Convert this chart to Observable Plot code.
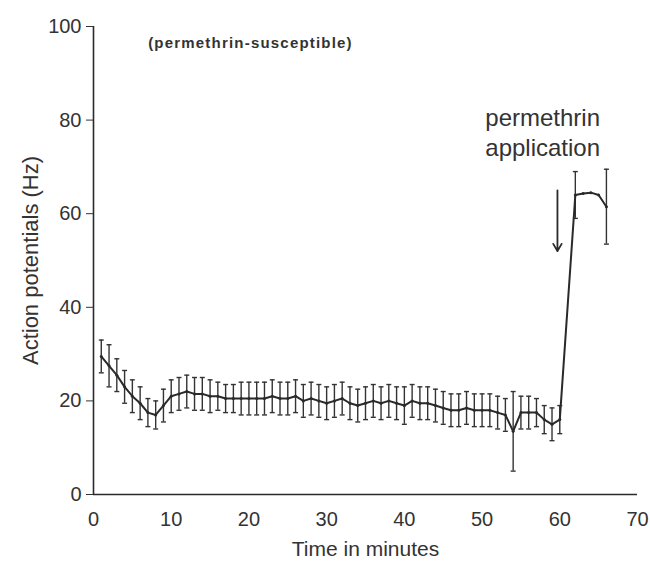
<!DOCTYPE html>
<html>
<head>
<meta charset="utf-8">
<script src="https://cdn.jsdelivr.net/npm/d3@7"></script>
<script src="https://cdn.jsdelivr.net/npm/@observablehq/plot@0.6"></script>
<style>
  html, body { margin: 0; padding: 0; background: #fff; }
  #chart svg { display: block; }
</style>
</head>
<body>
<div id="chart"></div>
<script>
// Time (minutes)
const minutes = [1,2,3,4,5,6,7,8,9,10,11,12,13,14,15,16,17,18,19,20,21,22,23,24,25,26,27,28,29,30,
  31,32,33,34,35,36,37,38,39,40,41,42,43,44,45,46,47,48,49,50,51,52,53,54,55,56,57,58,59,60,
  62,63,64,65,66];
// Mean action potential frequency (Hz)
const meanHz = [29.5,27.5,25.5,23,21,19.5,17.5,17,19,21,21.5,22,21.5,21.5,21,21,20.5,20.5,20.5,20.5,
  20.5,20.5,21,20.5,20.5,21,20,20.5,20,19.5,20,20.5,19.5,19,19.5,20,19.5,20,19.5,19,
  20,19.5,19.5,19,18.5,18,18,18.5,18,18,18,17.5,17,13.5,17.5,17.5,17.5,16,15,16,
  64,64.3,64.5,64,61.5];
// Error (± Hz)
const errHz = [3.5,4.5,3.5,3.5,3.5,3.5,3,3,3.5,3.5,3.5,3.5,3.5,3.5,3.5,3,3,3,3.5,3.5,
  3.5,3.5,3.5,3.5,3.5,3.5,3.5,3.5,3.5,3.5,3.5,3.5,3.5,3.5,3.5,3.5,3.5,3.5,3.5,4,
  3.5,3.5,3.5,3.5,3.5,3.5,3.5,3.5,3.5,3.5,3.5,3.5,3.5,8.5,3.5,3.5,3,3,3.5,3,
  5,0,0,0,8];
const yTicks = [0,20,40,60,80,100];
const xTicks = [0,10,20,30,40,50,60,70];
const xLabel = "Time in minutes";
const yLabel = "Action potentials (Hz)";
const annotationLines = ["permethrin", "application"];
const annotationY = [80.3, 73.9];
const annotationX = 57.8;
const arrowTime = 59.7;
const arrowFrom = 65;
const arrowTo = 52;
const subtitle = "(permethrin-susceptible)";
const subtitleX = 20.2;
const subtitleY = 96.4;

const data = minutes.map((t, i) => ({t, m: meanHz[i], e: errHz[i]}));
const bars = data.filter(d => d.e > 0);
const capW = 0.32;
const ink = "#2a2a2a";
const font = "'Liberation Sans', Arial, sans-serif";

const chart = Plot.plot({
  width: 650,
  height: 569,
  marginLeft: 93,
  marginRight: 13,
  marginTop: 26,
  marginBottom: 75,
  style: {fontFamily: font, fontSize: "20px", color: "#333", background: "#fff"},
  x: {domain: [0, 70]},
  y: {domain: [0, 100]},
  marks: [
    Plot.axisY({ticks: yTicks, tickSize: 7, tickPadding: 5, fontSize: 20, label: null}),
    Plot.axisX({ticks: xTicks, tickSize: 0, tickPadding: 17, fontSize: 20, label: null}),
    Plot.text([xLabel], {frameAnchor: "bottom", dy: 61, text: d => d, fontSize: 21, fill: "#333"}),
    Plot.text([yLabel], {frameAnchor: "left", textAnchor: "middle", dx: -63, rotate: -90, text: d => d, fontSize: 22, fill: "#333"}),
    Plot.ruleY([0], {x1: 0, x2: 70, stroke: ink, strokeWidth: 1.6}),
    Plot.ruleX([0], {y1: 0, y2: 100, stroke: ink, strokeWidth: 1.6}),
    Plot.ruleX(bars, {x: "t", y1: d => d.m - d.e, y2: d => d.m + d.e, stroke: "#333", strokeWidth: 1.4}),
    Plot.link(bars, {x1: d => d.t - capW, x2: d => d.t + capW, y1: d => d.m + d.e, y2: d => d.m + d.e, stroke: "#333", strokeWidth: 1.4}),
    Plot.link(bars, {x1: d => d.t - capW, x2: d => d.t + capW, y1: d => d.m - d.e, y2: d => d.m - d.e, stroke: "#333", strokeWidth: 1.4}),
    Plot.line(data, {x: "t", y: "m", stroke: ink, strokeWidth: 2}),
    Plot.dot(data, {x: "t", y: "m", r: 1.5, fill: ink}),
    Plot.arrow([{t: arrowTime}], {x1: "t", x2: "t", y1: () => arrowFrom, y2: () => arrowTo, stroke: ink, strokeWidth: 1.8, headLength: 7}),
    Plot.text(annotationLines, {x: () => annotationX, y: (d, i) => annotationY[i], text: d => d, fontSize: 24, fill: "#333"}),
    Plot.text([subtitle], {x: () => subtitleX, y: () => subtitleY, text: d => d, fontSize: 15, fontWeight: "bold", fill: "#333"})
  ]
});
// widen the small subtitle the way the printed original is set
d3.select(chart).selectAll("text").filter(function() { return this.textContent === subtitle; })
  .attr("letter-spacing", "1.2px");
document.getElementById("chart").appendChild(chart);
</script>
</body>
</html>
